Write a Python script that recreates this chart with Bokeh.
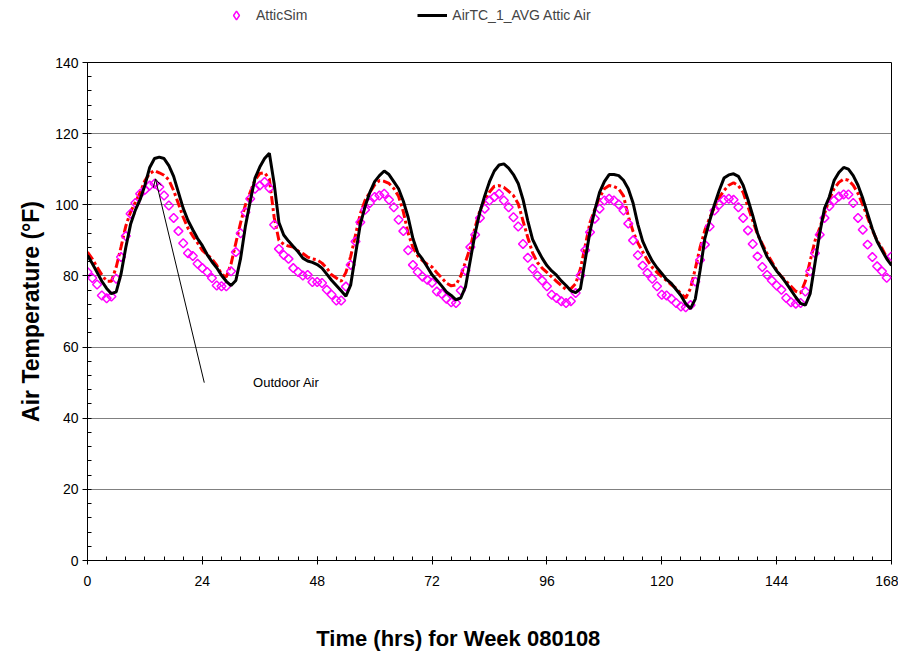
from bokeh.plotting import figure
from bokeh.embed import file_html
from bokeh.resources import INLINE
from bokeh.layouts import column
from bokeh.models import (Range1d, SingleIntervalTicker, Legend, LegendItem,
                          Arrow, OpenHead, Label, ColumnDataSource)

# ---------------- data (hourly, week 080108) ----------------
hours = list(range(0, 169))

attic_sim = [
    81.1, 79.4, 77.6, 74.5, 73.7, 74.2, 79.2, 85.3, 91.2, 97.5,
    100.5, 103.1, 104.2, 105.4, 105.9, 105.0, 102.6, 99.8, 96.3, 92.6,
    89.2, 86.4, 85.6, 83.4, 82.2, 81.1, 79.4, 77.3, 77.1, 77.1,
    81.3, 86.7, 92.0, 97.9, 101.7, 104.5, 105.4, 106.4, 104.7, 94.4,
    87.6, 85.9, 84.8, 82.2, 81.1, 80.1, 80.3, 78.3, 78.3, 78.0,
    76.1, 74.7, 73.1, 73.1, 77.0, 83.1, 89.7, 95.1, 98.6, 100.5,
    102.2, 102.6, 103.1, 101.4, 99.3, 95.8, 92.6, 87.2, 83.1, 81.1,
    79.8, 78.9, 78.1, 75.6, 75.0, 73.6, 72.6, 72.4, 75.9, 81.5,
    88.1, 91.6, 96.3, 98.9, 101.2, 102.2, 103.1, 101.2, 99.3, 96.5,
    93.9, 89.0, 85.1, 82.0, 80.1, 78.7, 77.1, 74.7, 73.8, 72.9,
    72.4, 72.9, 75.2, 80.1, 87.2, 92.3, 96.1, 98.9, 101.2, 101.7,
    101.2, 100.1, 98.4, 94.7, 90.0, 85.8, 82.9, 80.8, 79.2, 77.1,
    74.7, 74.5, 73.6, 72.4, 71.4, 71.2, 71.8, 78.4, 84.5, 88.8,
    93.9, 98.4, 100.0, 101.4, 101.7, 101.4, 99.3, 96.3, 92.8, 89.0,
    85.5, 82.5, 80.3, 78.7, 77.3, 76.1, 73.8, 72.6, 72.2, 72.4,
    75.6, 81.3, 86.4, 91.6, 96.3, 99.6, 101.2, 102.3, 102.9, 102.9,
    100.5, 96.3, 93.0, 88.8, 85.3, 82.7, 81.3, 79.5, 85.5,
]

attic_air_avg = [
    85.8, 83.5, 81.0, 78.5, 76.5, 75.0, 75.5, 80.5, 88.0, 94.5,
    98.5, 101.5, 105.5, 110.5, 113.0, 113.4, 113.0, 111.0, 108.0, 103.5,
    99.0, 95.6, 93.0, 90.5, 88.5, 86.0, 84.0, 82.3, 80.2, 78.5,
    77.3, 78.7, 85.0, 94.0, 101.0, 107.5, 110.6, 113.0, 114.5, 106.0,
    95.0, 91.5, 89.8, 88.3, 86.8, 85.0, 84.2, 83.8, 83.2, 82.2,
    80.5, 78.8, 77.3, 75.8, 74.3, 77.5, 86.0, 94.5, 99.5, 103.5,
    106.5, 108.2, 109.5, 108.5, 106.5, 104.5, 101.0, 96.5, 90.5, 86.5,
    84.7, 82.5, 80.3, 78.8, 77.2, 75.5, 74.5, 73.3, 73.8, 77.0,
    84.5, 92.0, 98.0, 102.5, 106.5, 109.5, 111.2, 111.5, 110.3, 108.5,
    106.0, 101.5, 95.5, 90.3, 87.5, 85.0, 82.9, 81.4, 80.2, 78.6,
    77.3, 75.8, 75.3, 76.4, 84.5, 92.5, 98.5, 103.5, 106.5, 108.5,
    108.5, 108.2, 106.9, 104.5, 100.5, 94.5, 89.8, 86.8, 84.2, 82.3,
    80.7, 79.0, 77.9, 76.2, 74.5, 72.2, 70.8, 73.5, 81.5, 90.5,
    95.5, 100.0, 104.0, 107.5, 108.4, 108.7, 108.0, 105.5, 101.5, 97.0,
    92.0, 88.5, 85.4, 83.4, 81.4, 79.8, 78.0, 76.0, 74.0, 72.3,
    71.8, 75.0, 83.5, 92.0, 99.0, 102.2, 106.8, 109.1, 110.5, 110.0,
    108.2, 105.5, 101.8, 97.5, 93.2, 89.7, 87.2, 84.8, 83.0,
]

red_series = [
    86.7, 84.8, 82.5, 80.3, 78.5, 78.5, 82.5, 88.1, 94.0, 98.0,
    100.7, 103.5, 106.8, 108.8, 109.6, 109.0, 108.3, 107.0, 104.0, 100.3,
    96.5, 93.4, 91.2, 89.3, 87.2, 86.0, 84.8, 83.0, 80.5, 79.7,
    83.4, 89.3, 95.0, 100.0, 103.5, 107.0, 108.8, 109.0, 107.3, 96.5,
    90.0, 88.9, 88.4, 88.1, 87.0, 86.3, 85.3, 84.8, 84.5, 83.6,
    82.2, 80.3, 79.4, 78.5, 81.0, 85.5, 91.5, 97.5, 101.3, 103.5,
    105.6, 106.8, 106.6, 106.0, 104.6, 102.4, 98.0, 92.0, 88.0, 85.7,
    84.3, 83.3, 82.5, 80.9, 79.5, 78.0, 77.2, 77.5, 80.0, 84.0,
    88.1, 93.7, 98.4, 101.2, 103.6, 105.2, 105.4, 104.9, 103.8, 102.6,
    100.3, 95.5, 90.8, 86.5, 83.8, 82.2, 81.0, 79.7, 78.5, 77.3,
    76.2, 76.4, 77.8, 82.0, 88.5, 95.0, 98.7, 102.0, 104.5, 105.4,
    105.1, 104.5, 102.5, 96.8, 92.5, 89.3, 86.8, 84.4, 82.4, 81.0,
    79.8, 78.7, 77.5, 76.5, 75.0, 73.8, 76.5, 82.0, 88.0, 92.8,
    96.3, 99.2, 102.0, 104.0, 105.5, 106.2, 105.4, 103.5, 99.5, 95.5,
    91.7, 89.0, 86.3, 84.0, 81.6, 79.8, 78.5, 77.1, 75.7, 75.2,
    78.5, 84.2, 89.8, 93.5, 97.5, 101.5, 104.5, 106.3, 107.2, 106.9,
    105.5, 103.2, 100.0, 96.4, 92.8, 89.9, 87.8, 85.2, 83.9,
]

legend_labels = ["AtticSim", "AirTC_1_AVG Attic Air"]
x_title = "Time (hrs) for Week 080108"
y_title = "Air Temperature (\u00b0F)"
note_text = "Outdoor Air"
# annotation anchor points (hours, °F)
arrow_tail = (24.4, 50.0)
arrow_tip = (14.2, 107.3)
note_pos = (34.6, 50.0)
x_title_pos = 47.8   # left edge of the x title, in hours

FONT = "Liberation Sans"
SIM_STYLE = dict(marker="square", angle=0.7854, size=6.3, fill_color=None,
                 line_color="#FF00FF", line_width=1.5)
SIM_LEGEND_STYLE = dict(marker="diamond", size=10, fill_color=None,
                        line_color="#FF00FF", line_width=1.5)
AIR_STYLE = dict(line_color="black", line_width=3)
BORDERS = dict(min_border_left=87, min_border_right=7)

src = ColumnDataSource(dict(h=hours, sim=attic_sim, air=attic_air_avg, red=red_series))


def strip(height):
    f = figure(width=898, height=height, output_backend="svg", toolbar_location=None,
               x_range=Range1d(0, 168), y_range=Range1d(0, height),
               x_axis_location=None, y_axis_location=None,
               min_border_top=0, min_border_bottom=0, **BORDERS)
    f.outline_line_color = None
    f.xgrid.grid_line_color = None
    f.ygrid.grid_line_color = None
    return f


# ---------------- legend strip (top) ----------------
leg_fig = strip(50)
# renderers only feed the legend; their points lie outside this strip's ranges
l_sim = leg_fig.scatter("h", "sim", source=src, **SIM_LEGEND_STYLE)
l_air = leg_fig.line("h", "air", source=src, **AIR_STYLE)
legend = Legend(items=[LegendItem(label=legend_labels[0], renderers=[l_sim]),
                       LegendItem(label=legend_labels[1], renderers=[l_air])],
                orientation="horizontal", location=(134, 24),
                border_line_color=None, background_fill_alpha=0,
                label_text_font=FONT, label_text_font_size="14px",
                glyph_width=30, glyph_height=22, label_standoff=5,
                spacing=110, padding=0, margin=0)
leg_fig.add_layout(legend, "center")

# ---------------- main chart ----------------
p = figure(width=898, height=550, output_backend="svg", toolbar_location=None,
           x_range=Range1d(0, 168), y_range=Range1d(0, 140),
           min_border_top=12, min_border_bottom=40, **BORDERS)
p.background_fill_color = "white"
p.border_fill_color = "white"
p.outline_line_color = "black"
p.outline_line_width = 1

p.xaxis.ticker = SingleIntervalTicker(interval=24, num_minor_ticks=6)
p.yaxis.ticker = SingleIntervalTicker(interval=20, num_minor_ticks=5)
for ax in (p.xaxis[0], p.yaxis[0]):
    ax.axis_line_color = "black"
    ax.major_tick_line_color = "black"
    ax.minor_tick_line_color = "black"
    ax.major_label_text_font = FONT
    ax.major_label_text_font_size = "14px"
    ax.major_label_text_color = "black"
    ax.minor_tick_in = 4
    ax.minor_tick_out = 0
p.xaxis.major_tick_in = 4
p.xaxis.major_tick_out = 4
p.yaxis.major_tick_in = 0
p.yaxis.major_tick_out = 5
p.xaxis.major_label_standoff = 11
p.yaxis.major_label_standoff = 4

p.yaxis.axis_label = y_title
p.yaxis.axis_label_text_font = FONT
p.yaxis.axis_label_text_font_size = "23px"
p.yaxis.axis_label_text_font_style = "bold"
p.yaxis.axis_label_text_color = "black"
p.yaxis.axis_label_standoff = 8

p.xgrid.grid_line_color = None
p.ygrid.grid_line_color = "#808080"
p.ygrid.grid_line_width = 1

p.line("h", "red", source=src, line_color="#FF0000", line_width=3,
       line_dash="9 3 3 3")
p.scatter("h", "sim", source=src, **SIM_STYLE)
p.line("h", "air", source=src, **AIR_STYLE)

p.add_layout(Arrow(end=OpenHead(size=8, line_color="black", line_width=1),
                   x_start=arrow_tail[0], y_start=arrow_tail[1],
                   x_end=arrow_tip[0], y_end=arrow_tip[1],
                   line_color="black", line_width=1))
p.add_layout(Label(x=note_pos[0], y=note_pos[1], text=note_text,
                   text_font=FONT, text_font_size="13px", text_color="black",
                   text_baseline="middle", text_align="left"))

# ---------------- x-axis title strip (bottom) ----------------
ttl_fig = strip(53)
ttl_fig.add_layout(Label(x=x_title_pos, y=15, text=x_title,
                         text_font=FONT, text_font_size="22px",
                         text_font_style="bold", text_color="black",
                         text_baseline="middle", text_align="left"))

layout = column(leg_fig, p, ttl_fig, spacing=0)
open("out.html", "w").write(file_html(layout, INLINE))
